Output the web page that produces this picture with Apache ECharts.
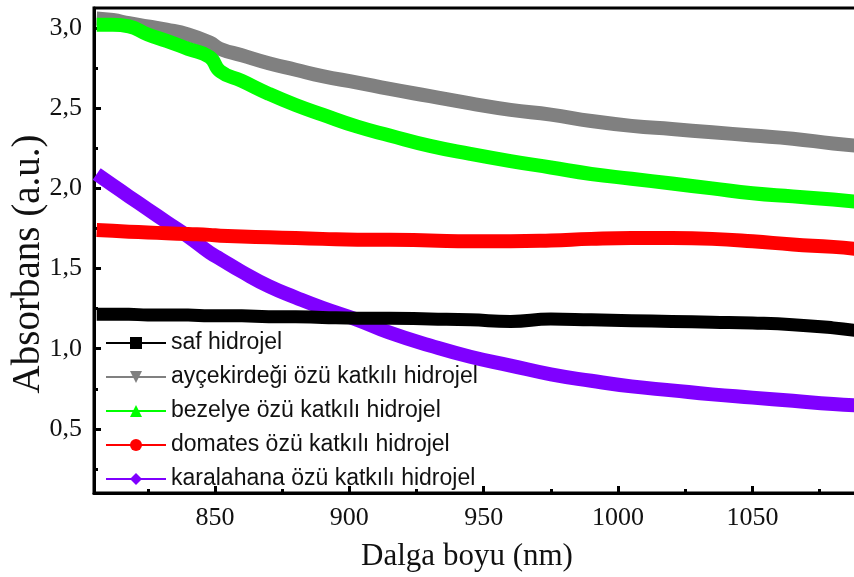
<!DOCTYPE html>
<html>
<head>
<meta charset="utf-8">
<script src="https://cdn.jsdelivr.net/npm/echarts@6/dist/echarts.min.js"></script>
<style>html,body{margin:0;padding:0;background:#fff}#c{width:854px;height:577px}</style>
</head>
<body>
<div id="c"></div>
<script>
var wavelengths = [806, 812, 818, 825, 832, 840, 848, 852, 860, 870, 880, 890, 903, 915, 930, 945, 960, 975, 990, 1005, 1020, 1035, 1050, 1065, 1080, 1090];
var safHidrojel = [1.215, 1.215, 1.215, 1.21, 1.21, 1.21, 1.205, 1.205, 1.205, 1.20, 1.20, 1.195, 1.19, 1.19, 1.185, 1.18, 1.17, 1.185, 1.18, 1.175, 1.17, 1.165, 1.16, 1.15, 1.13, 1.11];
var aycekirdegi = [3.06, 3.05, 3.03, 3.01, 2.99, 2.96, 2.91, 2.87, 2.83, 2.78, 2.74, 2.70, 2.66, 2.62, 2.575, 2.53, 2.49, 2.46, 2.42, 2.39, 2.37, 2.35, 2.33, 2.31, 2.28, 2.265];
var bezelye = [3.02, 3.02, 3.01, 2.96, 2.92, 2.87, 2.82, 2.73, 2.67, 2.59, 2.52, 2.46, 2.385, 2.33, 2.265, 2.215, 2.17, 2.13, 2.09, 2.06, 2.03, 2.0, 1.97, 1.95, 1.93, 1.915];
var domates = [1.74, 1.735, 1.73, 1.725, 1.72, 1.715, 1.71, 1.705, 1.70, 1.695, 1.69, 1.685, 1.68, 1.68, 1.675, 1.67, 1.67, 1.675, 1.685, 1.69, 1.69, 1.685, 1.67, 1.65, 1.635, 1.62];
var karalahana = [2.09, 2.02, 1.95, 1.87, 1.79, 1.70, 1.60, 1.56, 1.48, 1.39, 1.32, 1.255, 1.18, 1.10, 1.02, 0.95, 0.895, 0.84, 0.80, 0.765, 0.74, 0.715, 0.695, 0.675, 0.655, 0.645];
var seriesNames = ['saf hidrojel', 'ayçekirdeği özü katkılı hidrojel', 'bezelye özü katkılı hidrojel', 'domates özü katkılı hidrojel', 'karalahana özü katkılı hidrojel'];
var xMajorTicks = [850, 900, 950, 1000, 1050];
var xMinorTicks = [825, 875, 925, 975, 1025, 1075];
var yMajorTicks = [0.5, 1.0, 1.5, 2.0, 2.5, 3.0];
var yMinorTicks = [0.25, 0.75, 1.25, 1.75, 2.25, 2.75];

function pairs(ys) { return wavelengths.map(function (x, i) { return [x, ys[i]]; }); }

var serif = 'Liberation Serif';
var chart = echarts.init(document.getElementById('c'));
var xMin = 805, xMax = 1090, yMin = 0.1, yMax = 3.125;

function mkSeries(name, ys, color, symbol, z, width, rot) {
  return {
    name: name, type: 'line', data: pairs(ys), showSymbol: false, symbol: symbol, symbolSize: 14,
    symbolRotate: rot || 0,
    smooth: 0.5, z: z, silent: true,
    lineStyle: { color: color, width: width, cap: 'butt', join: 'round' },
    itemStyle: { color: color },
    xAxisIndex: 0, yAxisIndex: 0
  };
}

chart.setOption({
  animation: false,
  backgroundColor: '#fff',
  grid: { left: 94, right: -6, top: 8, bottom: 84, show: true, borderColor: '#000', borderWidth: 3, outerBoundsMode: 'none' },
  legend: {
    left: 105, top: 331, orient: 'vertical', padding: 0,
    itemWidth: 60, itemHeight: 15, itemGap: 10,
    textStyle: { fontFamily: 'Liberation Sans', fontSize: 23, color: '#111', lineHeight: 24 },
    lineStyle: { width: 2 },
    data: seriesNames
  },
  graphic: [{
    type: 'text', x: 29, y: 264, rotation: Math.PI / 2, silent: true,
    style: { text: 'Absorbans (a.u.)', fontFamily: serif, fontSize: 39, fill: '#111', align: 'center', verticalAlign: 'middle' }
  }],
  xAxis: [{
    type: 'value', min: xMin, max: xMax, position: 'bottom',
    axisLine: { show: true, lineStyle: { color: '#000', width: 3 } },
    axisTick: { show: true, inside: true, length: 7, lineStyle: { color: '#000', width: 3 }, customValues: xMajorTicks },
    axisLabel: { show: true, customValues: xMajorTicks, fontFamily: serif, fontSize: 26, color: '#111', margin: 12,
      formatter: function (v) { return String(v); } },
    splitLine: { show: false },
    name: 'Dalga boyu (nm)', nameLocation: 'middle', nameGap: 48,
    nameTextStyle: { fontFamily: serif, fontSize: 31, color: '#111', padding: [0, 20, 0, 0] }
  }, {
    type: 'value', min: xMin, max: xMax, position: 'bottom',
    axisLine: { show: false },
    axisTick: { show: true, inside: true, length: 4, lineStyle: { color: '#000', width: 3 }, customValues: xMinorTicks },
    axisLabel: { show: false }, splitLine: { show: false }
  }],
  yAxis: [{
    type: 'value', min: yMin, max: yMax, position: 'left',
    axisLine: { show: true, lineStyle: { color: '#000', width: 3 } },
    axisTick: { show: true, inside: true, length: 7, lineStyle: { color: '#000', width: 3 }, customValues: yMajorTicks },
    axisLabel: { show: true, customValues: yMajorTicks, fontFamily: serif, fontSize: 26, color: '#111', margin: 12,
      formatter: function (v) { return v.toFixed(1).replace('.', ','); } },
    splitLine: { show: false }
  }, {
    type: 'value', min: yMin, max: yMax, position: 'left',
    axisLine: { show: false },
    axisTick: { show: true, inside: true, length: 4, lineStyle: { color: '#000', width: 3 }, customValues: yMinorTicks },
    axisLabel: { show: false }, splitLine: { show: false }
  }],
  series: [
    mkSeries(seriesNames[0], safHidrojel, '#000000', 'rect', 10, 13),
    mkSeries(seriesNames[1], aycekirdegi, '#808080', 'triangle', 6, 14, 180),
    mkSeries(seriesNames[2], bezelye, '#00ff00', 'triangle', 8, 14),
    mkSeries(seriesNames[3], domates, '#ff0000', 'circle', 4, 14),
    mkSeries(seriesNames[4], karalahana, '#7f00ff', 'diamond', 2, 14)
  ]
});
</script>
</body>
</html>
